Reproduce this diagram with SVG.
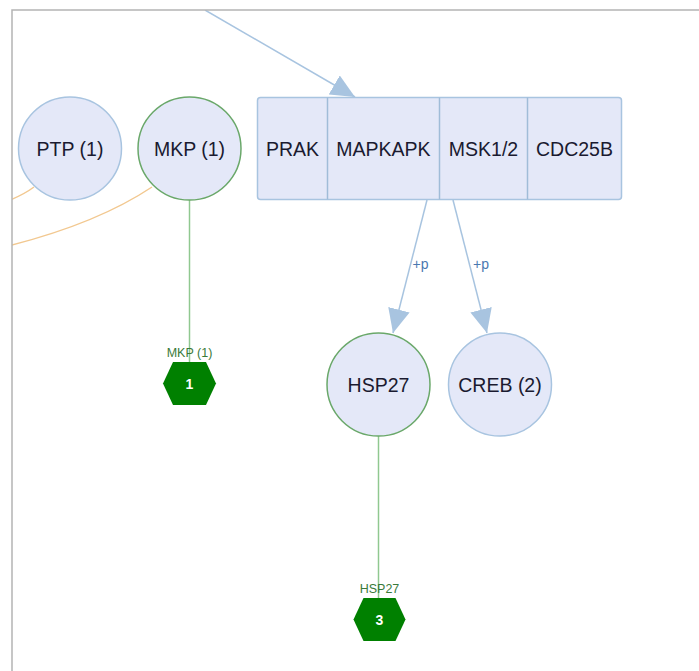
<svg xmlns="http://www.w3.org/2000/svg" width="699" height="671" viewBox="0 0 699 671">
<style>
.node{fill:#e4e8f8;stroke:#a8c4e0;stroke-width:1.5}
.gnode{fill:#e4e8f8;stroke:#6aa86a;stroke-width:1.5}
.lbl{font-family:"Liberation Sans",Arial,sans-serif;font-size:19.5px;fill:#1a1a30;text-anchor:middle}
.edge{fill:none;stroke:#a8c4e0;stroke-width:1.5}
.gedge{fill:none;stroke:#90c890;stroke-width:1.5}
.oedge{fill:none;stroke:#f2c890;stroke-width:1.5}
.elbl{font-family:"Liberation Sans",Arial,sans-serif;font-size:14px;fill:#4a78b0;text-anchor:middle}
.hex{fill:#008000}
.hlbl{font-family:"Liberation Sans",Arial,sans-serif;font-size:12.5px;fill:#3a7a3a;text-anchor:middle}
.hnum{font-family:"Liberation Sans",Arial,sans-serif;font-size:14px;font-weight:bold;fill:#ffffff;text-anchor:middle}
</style>
<defs>
<marker id="arr" viewBox="0 0 24 22" refX="24" refY="11" markerWidth="24" markerHeight="22" markerUnits="userSpaceOnUse" orient="auto">
<path d="M0,0 L24,11 L0,22 Z" fill="#a8c4e0"/>
</marker>
<clipPath id="frame"><rect x="12" y="10" width="687" height="661"/></clipPath>
</defs>
<rect width="699" height="671" fill="#ffffff"/>
<g id="connectors" clip-path="url(#frame)">
<path class="oedge" d="M34,187 Q22,196 0,204"/>
<path class="oedge" d="M152,187 Q95,225 0,248"/>
<path class="edge" d="M205,10 L355,97" marker-end="url(#arr)"/>
<path class="edge" d="M427,200 L393,333" marker-end="url(#arr)"/>
<path class="edge" d="M453,200 L487,333" marker-end="url(#arr)"/>
<text class="elbl" x="420.5" y="269">+p</text>
<text class="elbl" x="481" y="269">+p</text>
<path class="gedge" d="M189.5,200 L189.5,362"/>
<path class="gedge" d="M378.5,436 L378.5,598"/>
</g>
<g id="PTP"><circle class="node" cx="70" cy="148.5" r="51.5"/><text class="lbl" x="70" y="155.5">PTP (1)</text></g>
<g id="MKP"><circle class="gnode" cx="189.5" cy="148.5" r="51.5"/><text class="lbl" x="189.5" y="155.5">MKP (1)</text></g>
<g id="complex">
<rect class="node" x="257.5" y="97.5" width="364" height="102" rx="3"/>
<line x1="327.5" y1="97.5" x2="327.5" y2="199.5" stroke="#a0bcd8" stroke-width="1.5"/>
<line x1="439.5" y1="97.5" x2="439.5" y2="199.5" stroke="#a0bcd8" stroke-width="1.5"/>
<line x1="527.5" y1="97.5" x2="527.5" y2="199.5" stroke="#a0bcd8" stroke-width="1.5"/>
<text class="lbl" x="292.5" y="155.5">PRAK</text>
<text class="lbl" x="383.5" y="155.5">MAPKAPK</text>
<text class="lbl" x="483.5" y="155.5">MSK1/2</text>
<text class="lbl" x="574.5" y="155.5">CDC25B</text>
</g>
<g id="HSP27"><circle class="gnode" cx="378.5" cy="384.5" r="51.5"/><text class="lbl" x="378.5" y="391.5">HSP27</text></g>
<g id="CREB"><circle class="node" cx="500" cy="384.5" r="51.5"/><text class="lbl" x="500" y="391.5">CREB (2)</text></g>
<g id="hexMKP">
<text class="hlbl" x="189.5" y="357">MKP (1)</text>
<polygon class="hex" points="163,383.5 173,362 206,362 216,383.5 206,405 173,405"/>
<text class="hnum" x="189.5" y="388.5">1</text>
</g>
<g id="hexHSP27">
<text class="hlbl" x="379.5" y="593">HSP27</text>
<polygon class="hex" points="353.5,619.5 363.5,598 395.5,598 405.5,619.5 395.5,641 363.5,641"/>
<text class="hnum" x="379.5" y="624.5">3</text>
</g>
<path d="M12,671 L12,10 L699,10" fill="none" stroke="#b4b4b4" stroke-width="1.5"/>
</svg>
